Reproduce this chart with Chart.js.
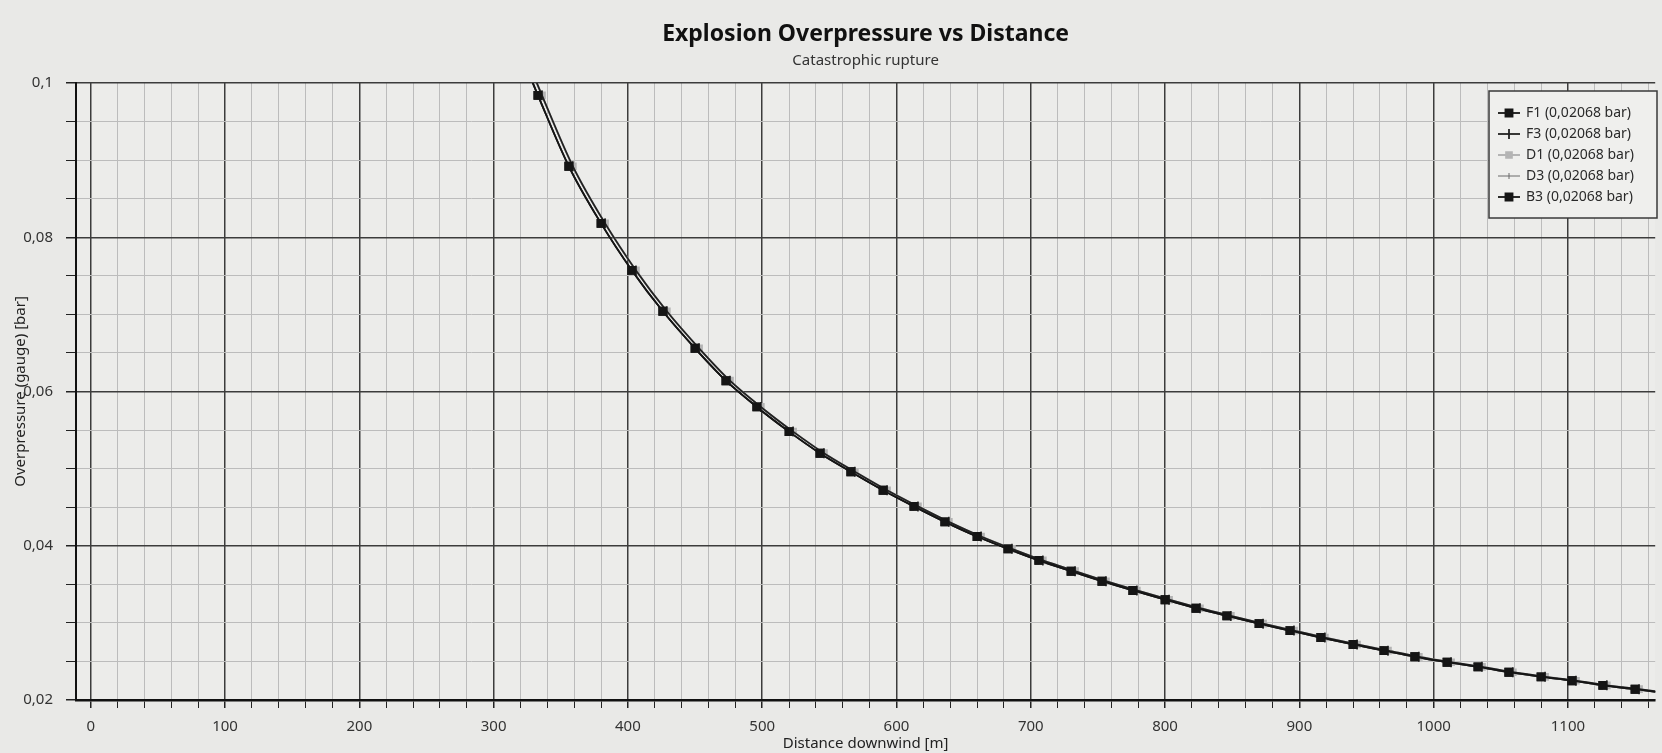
<!DOCTYPE html>
<html>
<head>
<meta charset="utf-8">
<script src="https://cdn.jsdelivr.net/npm/chart.js@4.4.0/dist/chart.umd.min.js"></script>
<style>
html,body{margin:0;padding:0;background:#e9e9e7;}
canvas{display:block;}
</style>
</head>
<body>
<canvas id="chart" width="1662" height="753"></canvas>
<script>
// distances [m] (square-marker curve)
const distanceF = [322, 333, 356, 380, 403, 426, 450, 473, 496, 520, 543, 566, 590, 613, 636, 660, 683, 706, 730, 753,
                   776, 800, 823, 846, 870, 893, 916, 940, 963, 986, 1010, 1033, 1056, 1080, 1103, 1126, 1150, 1173];
// the second, slightly offset curve (dash markers)
const distanceD = [325, 336, 359, 383, 406, 429, 453, 476, 499, 523, 546, 569, 593, 616, 639, 663, 686, 709, 733, 756,
                   779, 803, 826, 849, 873, 896, 919, 943, 966, 989, 1013, 1036, 1059, 1083, 1106, 1129, 1153, 1176];
// overpressure [bar]
const overpressure = [0.1030, 0.0984, 0.0892, 0.0818, 0.0757, 0.0704, 0.0656, 0.0614, 0.0580, 0.0548,
                      0.0520, 0.0496, 0.0472, 0.0451, 0.0431, 0.0412, 0.0396, 0.0381, 0.0367, 0.0354,
                      0.0342, 0.0330, 0.0319, 0.0309, 0.0299, 0.0290, 0.0281, 0.0272, 0.0264, 0.0256,
                      0.0249, 0.0243, 0.0236, 0.0230, 0.0225, 0.0219, 0.0214, 0.0209];

const seriesNames = ['F1 (0,02068 bar)', 'F3 (0,02068 bar)', 'D1 (0,02068 bar)', 'D3 (0,02068 bar)', 'B3 (0,02068 bar)'];

const FONT = '"Noto Sans", "Open Sans", sans-serif';

function pts(xs, ys) {
    return xs.map((x, i) => ({x: x, y: ys[i]}));
}

function isMultiple(v, step) {
    return Math.abs(v / step - Math.round(v / step)) < 1e-6;
}

// ticks on every step between the first and last multiple inside the range
function stepTicks(scale, step) {
    const ticks = [];
    const first = Math.ceil(scale.min / step - 1e-9);
    const last = Math.floor(scale.max / step + 1e-9);
    for (let i = first; i <= last; i++) {
        ticks.push({value: parseFloat((i * step).toFixed(6))});
    }
    scale.ticks = ticks;
}

// legend drawn inside the plot, top right
const legendBox = {
    id: 'legendBox',
    afterDraw(chart) {
        const ctx = chart.ctx;
        const x0 = 1489, y0 = 91, w = 168, h = 127;
        ctx.save();
        ctx.fillStyle = '#efefed';
        ctx.fillRect(x0, y0, w, h);
        ctx.strokeStyle = '#3a3a3a';
        ctx.lineWidth = 1.5;
        ctx.strokeRect(x0, y0, w, h);
        chart.data.datasets.forEach((ds, i) => {
            const y = y0 + 22 + i * 21;
            ctx.strokeStyle = ds.borderColor;
            ctx.lineWidth = ds.borderWidth;
            ctx.beginPath();
            ctx.moveTo(x0 + 9, y);
            ctx.lineTo(x0 + 31, y);
            ctx.stroke();
            ctx.fillStyle = ds.pointBackgroundColor;
            ctx.strokeStyle = ds.pointBorderColor;
            Chart.helpers.drawPoint(ctx, {
                pointStyle: ds.pointStyle,
                rotation: ds.pointRotation || 0,
                radius: ds.pointRadius,
                borderWidth: 1
            }, x0 + 20, y);
            ctx.fillStyle = '#2a2a2a';
            ctx.font = '14px ' + FONT;
            ctx.textBaseline = 'middle';
            ctx.textAlign = 'left';
            ctx.fillText(ds.label, x0 + 37, y);
        });
        ctx.restore();
    }
};

// light plot background
const plotBg = {
    id: 'plotBg',
    beforeDraw(chart) {
        const a = chart.chartArea;
        chart.ctx.save();
        chart.ctx.fillStyle = '#ececea';
        chart.ctx.fillRect(a.left, a.top, a.right - a.left, a.bottom - a.top);
        chart.ctx.restore();
    }
};

const chart = new Chart(
    document.getElementById('chart'),
    {
        type: 'line',
        data: {
            datasets: [
                {
                    label: seriesNames[0],
                    data: pts(distanceF, overpressure),
                    borderColor: '#151515', borderWidth: 1.8,
                    pointStyle: 'rect', pointRadius: 5,
                    pointBackgroundColor: '#151515', pointBorderColor: '#151515'
                },
                {
                    label: seriesNames[1],
                    data: pts(distanceD, overpressure),
                    borderColor: '#222222', borderWidth: 1.8,
                    pointStyle: 'line', pointRotation: 90, pointRadius: 5,
                    pointBorderWidth: 1.5,
                    pointBackgroundColor: '#222222', pointBorderColor: '#222222'
                },
                {
                    label: seriesNames[2],
                    data: pts(distanceD, overpressure),
                    borderColor: '#b4b4b4', borderWidth: 2,
                    pointStyle: 'rect', pointRadius: 4,
                    pointBackgroundColor: '#b4b4b4', pointBorderColor: '#b4b4b4'
                },
                {
                    label: seriesNames[3],
                    data: pts(distanceD, overpressure),
                    borderColor: '#6a6a6a', borderWidth: 1,
                    pointStyle: 'line', pointRotation: 90, pointRadius: 3,
                    pointBackgroundColor: '#6a6a6a', pointBorderColor: '#6a6a6a'
                },
                {
                    label: seriesNames[4],
                    data: pts(distanceF, overpressure),
                    borderColor: '#151515', borderWidth: 1.8,
                    pointStyle: 'rect', pointRadius: 5,
                    pointBackgroundColor: '#151515', pointBorderColor: '#151515'
                }
            ]
        },
        options: {
            responsive: false,
            animation: false,
            events: [],
            layout: {padding: 0},
            elements: {line: {cubicInterpolationMode: 'monotone'}},
            plugins: {
                legend: {display: false},
                tooltip: {enabled: false},
                title: {
                    display: true,
                    text: 'Explosion Overpressure vs Distance',
                    fullSize: false,
                    color: '#111',
                    font: {family: FONT, size: 23, weight: 'bold'},
                    padding: {top: 20.2, bottom: 0}
                },
                subtitle: {
                    display: true,
                    text: 'Catastrophic rupture',
                    fullSize: false,
                    color: '#333',
                    font: {family: FONT, size: 15},
                    padding: {top: 4.2, bottom: 13}
                }
            },
            scales: {
                x: {
                    type: 'linear',
                    min: -11,
                    max: 1165,
                    afterBuildTicks: s => stepTicks(s, 20),
                    afterFit: s => { s.height = 53; },
                    ticks: {
                        autoSkip: false,
                        maxRotation: 0,
                        padding: 10,
                        color: '#333',
                        font: {family: FONT, size: 15},
                        callback: v => isMultiple(v, 100) ? String(Math.round(v)) : ''
                    },
                    grid: {
                        color: c => isMultiple(c.tick.value, 100) ? '#3c3c3c' : '#bcbcbc',
                        lineWidth: c => isMultiple(c.tick.value, 100) ? 1.5 : 1,
                        tickColor: '#222',
                        tickLength: 8
                    },
                    border: {color: '#111', width: 2.5},
                    title: {
                        display: true,
                        text: 'Distance downwind [m]',
                        color: '#222',
                        font: {family: FONT, size: 15},
                        padding: {top: 0, bottom: 0}
                    }
                },
                y: {
                    min: 0.02,
                    max: 0.1,
                    afterBuildTicks: s => stepTicks(s, 0.005),
                    afterFit: s => { s.width = 76; },
                    ticks: {
                        autoSkip: false,
                        padding: 13,
                        color: '#333',
                        font: {family: FONT, size: 15},
                        callback: v => isMultiple(v, 0.02) ? String(parseFloat(v.toFixed(3))).replace('.', ',') : ''
                    },
                    grid: {
                        color: c => isMultiple(c.tick.value, 0.02) ? '#3c3c3c' : '#bcbcbc',
                        lineWidth: c => isMultiple(c.tick.value, 0.02) ? 1.5 : 1,
                        tickColor: '#222',
                        tickLength: 10
                    },
                    border: {color: '#111', width: 2},
                    title: {
                        display: true,
                        text: 'Overpressure (gauge) [bar]',
                        color: '#222',
                        font: {family: FONT, size: 15},
                        padding: {top: 12, bottom: 0}
                    }
                }
            }
        },
        plugins: [plotBg, legendBox]
    }
);
</script>
</body>
</html>
